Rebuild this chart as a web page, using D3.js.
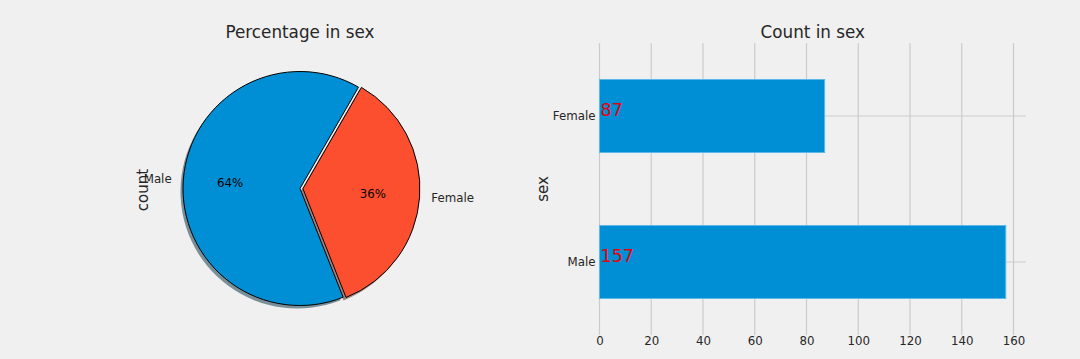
<!DOCTYPE html>
<html>
<head>
<meta charset="utf-8">
<script src="https://cdn.jsdelivr.net/npm/d3@7"></script>
<style>
html,body{margin:0;padding:0;background:#f0f0f0;}
svg{display:block;font-family:"DejaVu Sans",sans-serif;}
</style>
</head>
<body>
<svg id="chart" width="1080" height="359"></svg>
<script>
// Data
const categories = ["Male", "Female"];
const counts = [157, 87];
const pieColors = ["#008fd5", "#fc4f30"];
const explodeFrac = [0, 0.025];
const xTicks = [0, 20, 40, 60, 80, 100, 120, 140, 160];
const pieTitle = "Percentage in sex";
const barTitle = "Count in sex";

(function () {
const svg = d3.select("#chart");
svg.append("rect").attr("width", 1080).attr("height", 359).attr("fill", "#f0f0f0");
const fs = 11.8;

// ---------- Pie ----------
const cx = 300, cy = 188.5, R = 117;
const total = d3.sum(counts);
const startMpl = 60;
const pie = d3.pie().sort(null).value(d => d)
  .startAngle((90 - startMpl) * Math.PI / 180)
  .endAngle((90 - startMpl - 360) * Math.PI / 180);
const arcs = pie(counts);
const arc = d3.arc().innerRadius(0).outerRadius(R);
const gPie = svg.append("g").attr("transform", `translate(${cx},${cy})`);

function offset(d, i) {
  const mid = (d.startAngle + d.endAngle) / 2;
  const e = explodeFrac[i] * R;
  return [Math.sin(mid) * e, -Math.cos(mid) * e];
}
arcs.forEach((d, i) => {
  const [ox, oy] = offset(d, i);
  const c = d3.rgb(pieColors[i]);
  const sc = d3.rgb(c.r * 0.3, c.g * 0.3, c.b * 0.3);
  gPie.append("path").attr("d", arc(d))
    .attr("transform", `translate(${ox - 2.5},${oy + 3})`)
    .attr("fill", sc).attr("fill-opacity", 0.5);
});
arcs.forEach((d, i) => {
  const [ox, oy] = offset(d, i);
  gPie.append("path").attr("d", arc(d))
    .attr("transform", `translate(${ox},${oy})`)
    .attr("fill", pieColors[i]).attr("stroke", "#000").attr("stroke-width", 1)
    .attr("stroke-linejoin", "round");
});
arcs.forEach((d, i) => {
  const [ox, oy] = offset(d, i);
  const mid = (d.startAngle + d.endAngle) / 2;
  const sx = Math.sin(mid), sy = -Math.cos(mid);
  gPie.append("text")
    .attr("x", ox + sx * R * 1.1).attr("y", oy + sy * R * 1.1)
    .attr("text-anchor", sx < 0 ? "end" : "start")
    .attr("dominant-baseline", "central")
    .attr("font-size", fs).attr("fill", "#262626")
    .text(categories[i]);
  gPie.append("text")
    .attr("x", ox + sx * R * 0.6).attr("y", oy + sy * R * 0.6)
    .attr("text-anchor", "middle").attr("dominant-baseline", "central")
    .attr("font-size", fs).attr("fill", "#000")
    .text(Math.round(counts[i] / total * 100) + "%");
});
svg.append("text").attr("transform", `translate(148,190) rotate(-90)`)
  .attr("text-anchor", "middle").attr("font-size", 15).attr("fill", "#262626")
  .text("count");
svg.append("text").attr("x", 300).attr("y", 38).attr("text-anchor", "middle")
  .attr("font-size", 16.8).attr("fill", "#262626").text(pieTitle);

// ---------- Bar ----------
const left = 599.5, plotTop = 43, plotBottom = 335;
const xmax = d3.max(counts) * 1.05;
const x = d3.scaleLinear().domain([0, xmax]).range([left, left + xmax * 2.5875]);
const right = x.range()[1];
const y = d3.scaleBand().domain(categories).range([plotBottom, plotTop]).paddingInner(0.5).paddingOuter(0.25);
const g = svg.append("g");
g.selectAll(".vg").data(xTicks).join("line")
  .attr("x1", d => x(d)).attr("x2", d => x(d)).attr("y1", plotTop).attr("y2", plotBottom)
  .attr("stroke", "#cbcbcb").attr("stroke-width", 1.2);
g.selectAll(".hg").data(categories).join("line")
  .attr("x1", left).attr("x2", right)
  .attr("y1", d => y(d) + y.bandwidth() / 2).attr("y2", d => y(d) + y.bandwidth() / 2)
  .attr("stroke", "#cbcbcb").attr("stroke-width", 1.2);
g.selectAll(".bar").data(categories).join("rect")
  .attr("x", x(0)).attr("y", d => y(d))
  .attr("width", (d, i) => x(counts[i]) - x(0)).attr("height", y.bandwidth())
  .attr("fill", "#008fd5").attr("stroke", "#5cb8e6").attr("stroke-width", 1);
g.selectAll(".val").data(categories).join("text")
  .attr("x", x(0) + 1).attr("y", d => y(d) + y.bandwidth() / 2)
  .attr("font-size", 17.5).attr("fill", "#e8000b")
  .text((d, i) => counts[i]);
const xAxis = d3.axisBottom(x).tickValues(xTicks).tickSize(0).tickPadding(0);
const gx = svg.append("g").attr("transform", `translate(0,${plotBottom})`).call(xAxis);
gx.select(".domain").remove();
gx.selectAll("text").attr("font-size", fs).attr("fill", "#262626")
  .attr("font-family", "DejaVu Sans").attr("dy", "0.71em").attr("y", 2);
const yAxis = d3.axisLeft(y).tickSize(0).tickPadding(4);
const gy = svg.append("g").attr("transform", `translate(${left},0)`).call(yAxis);
gy.select(".domain").remove();
gy.selectAll("text").attr("font-size", fs).attr("fill", "#262626")
  .attr("font-family", "DejaVu Sans");
svg.append("text").attr("transform", `translate(548,189) rotate(-90)`)
  .attr("text-anchor", "middle").attr("font-size", 15).attr("fill", "#262626").text("sex");
svg.append("text").attr("x", (left + right) / 2).attr("y", 38).attr("text-anchor", "middle")
  .attr("font-size", 16.8).attr("fill", "#262626").text(barTitle);
})();
</script>
</body>
</html>
